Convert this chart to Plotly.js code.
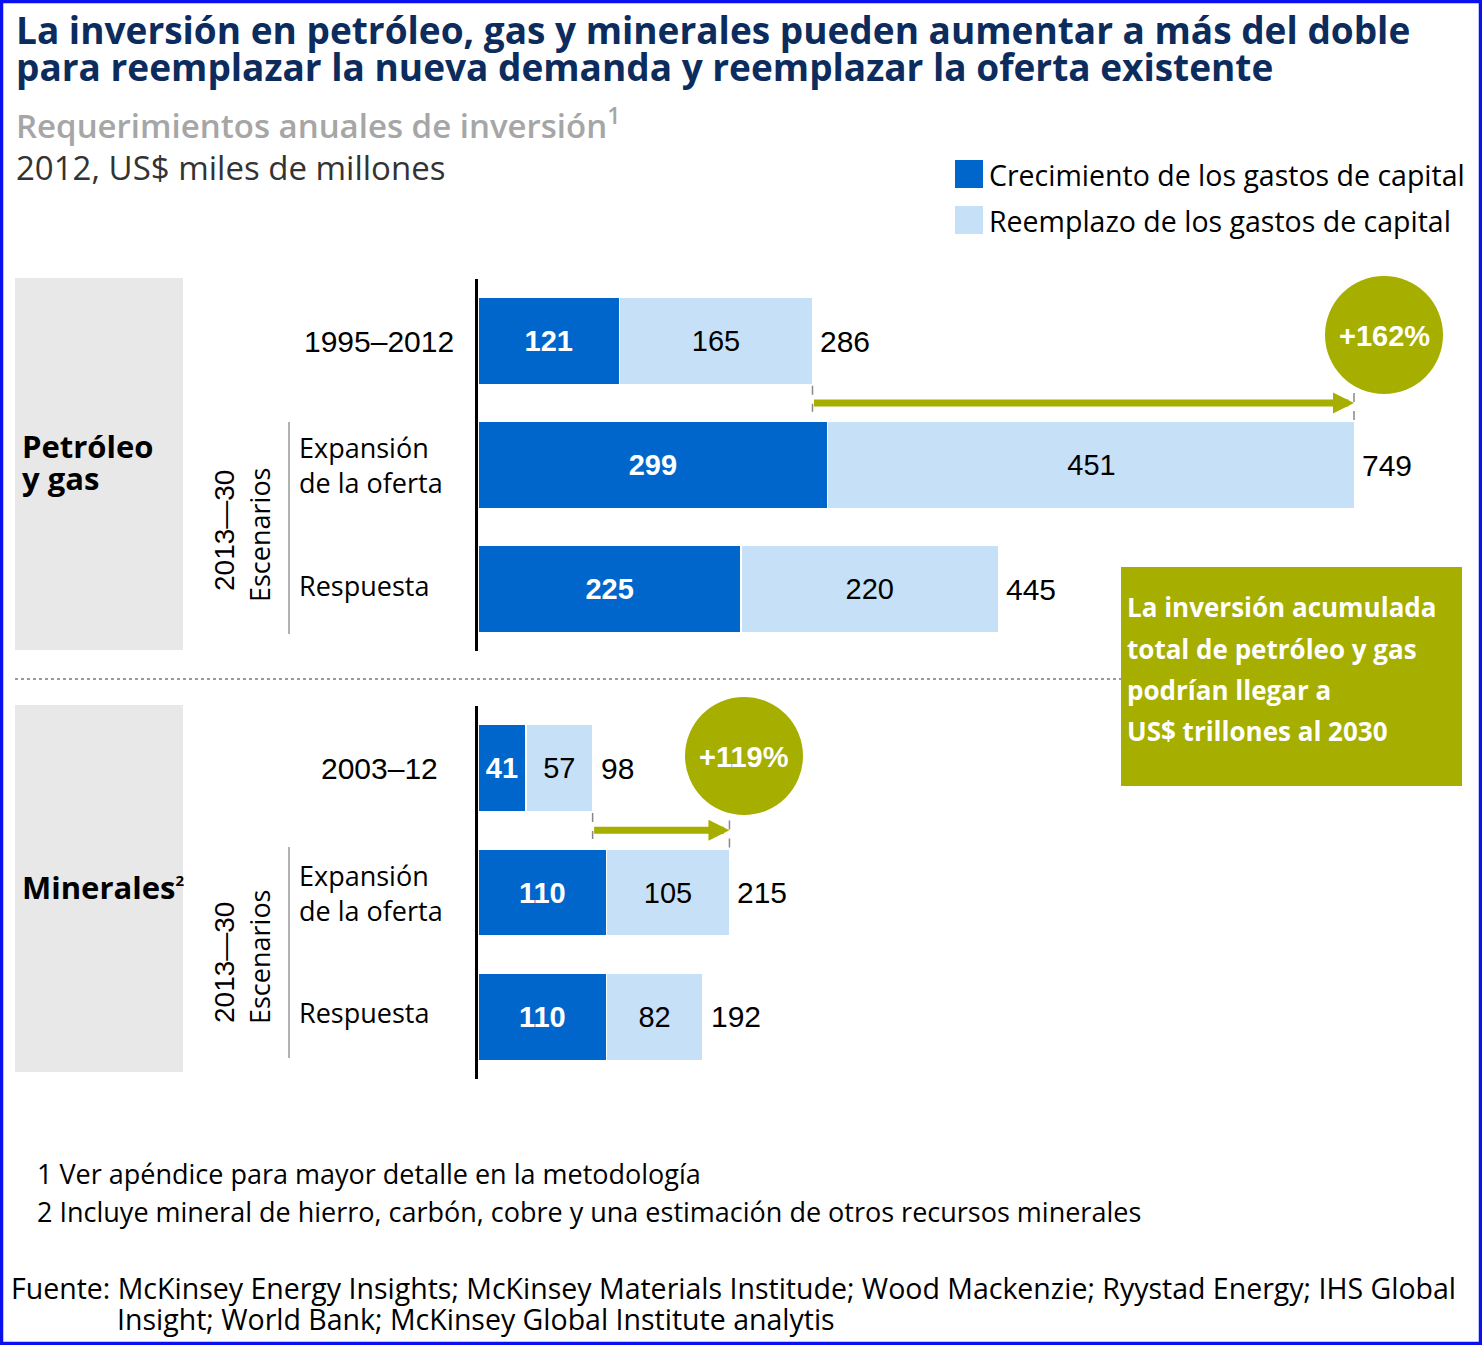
<!DOCTYPE html>
<html>
<head>
<meta charset="utf-8">
<script src="https://cdn.plot.ly/plotly-3.0.1.min.js"></script>
<style>
html,body{margin:0;padding:0;overflow:hidden;background:#fff;}
#chart{width:1482px;height:1345px;}
</style>
</head>
<body>
<div id="chart"></div>
<script>
// ---------- DATA ----------
const rowsOil = ['1995–2012', 'Expansión<br>de la oferta', 'Respuesta'];
const growthOil = [121, 299, 225];
const replaceOil = [165, 451, 220];
const totalOil = [286, 749, 445];

const rowsMin = ['2003–12', 'Expansión<br>de la oferta', 'Respuesta'];
const growthMin = [41, 110, 110];
const replaceMin = [57, 105, 82];
const totalMin = [98, 215, 192];

const seriesNames = ['Crecimiento de los gastos de capital', 'Reemplazo de los gastos de capital'];
const groupNames = ['Petróleo', 'y gas', 'Minerales<sup><span style="font-size:15px">2</span></sup>'];
const periodLabel = '2013—30';
const scenarioLabel = 'Escenarios';

// ---------- STYLE ----------
const W = 1482, H = 1345;
const PX = p => p / W;
const PY = p => 1 - p / H;
const DARK = '#0066cc', LIGHT = '#c6e0f8', OLIVE = '#a6ae00', NAVY = '#0c2c5e';
const ARIAL = 'Liberation Sans, Arial, sans-serif';
const OPEN = 'Open Sans, Noto Sans, sans-serif';
const pxPerUnit = (1354 - 478) / 749;
const xRange = [0, (W - 478) / pxPerUnit];

function barTraces(rows, growth, repl, xa, ya) {
  return [
    {type: 'bar', orientation: 'h', y: rows, x: growth, name: seriesNames[0], xaxis: xa, yaxis: ya,
     marker: {color: DARK, line: {color: '#ffffff', width: 1.5}}, width: 0.7,
     text: growth.map(String), textposition: 'inside', insidetextanchor: 'middle', constraintext: 'none',
     textangle: 0, textfont: {family: ARIAL, size: 29, color: '#ffffff', weight: 700},
     hoverinfo: 'skip', showlegend: false},
    {type: 'bar', orientation: 'h', y: rows, x: repl, name: seriesNames[1], xaxis: xa, yaxis: ya,
     marker: {color: LIGHT, line: {color: '#ffffff', width: 1.5}}, width: 0.7,
     text: repl.map(String), textposition: 'inside', insidetextanchor: 'middle', constraintext: 'none',
     textangle: 0, textfont: {family: ARIAL, size: 29, color: '#000000'},
     hoverinfo: 'skip', showlegend: false}
  ];
}

const data = [
  ...barTraces(rowsOil, growthOil, replaceOil, 'x', 'y'),
  ...barTraces(rowsMin, growthMin, replaceMin, 'x2', 'y2')
];

function txt(text, x, y, o) {
  o = o || {};
  return {xref: 'paper', yref: 'paper', x: PX(x), y: PY(y), text: text, showarrow: false,
    xanchor: o.xanchor || 'left', yanchor: 'middle', textangle: o.angle || 0,
    font: {family: o.family || OPEN, size: o.size || 27, color: o.color || '#000', weight: o.weight || 400}};
}

const annotations = [];
// titles
annotations.push(txt('La inversión en petróleo, gas y minerales pueden aumentar a más del doble', 14, 30, {size: 37, weight: 700, color: NAVY}));
annotations.push(txt('para reemplazar la nueva demanda y reemplazar la oferta existente', 14, 67, {size: 37, weight: 700, color: NAVY}));
annotations.push(txt('Requerimientos anuales de inversión<sup>1</sup>', 14, 124, {size: 33, weight: 600, color: '#a6a6a6'}));
annotations.push(txt('2012, US$ miles de millones', 14, 167, {size: 33, color: '#333333'}));
// legend
annotations.push(txt(seriesNames[0], 987, 175, {size: 28.5}));
annotations.push(txt(seriesNames[1], 987, 221, {size: 28.5}));
// group labels
annotations.push(txt(groupNames[0], 20, 446, {size: 31, weight: 700}));
annotations.push(txt(groupNames[1], 20, 478, {size: 31, weight: 700}));
annotations.push(txt(groupNames[2], 20, 887, {size: 31, weight: 700}));
// period / scenario rotated labels
annotations.push(txt(periodLabel, 224, 531, {size: 28, family: ARIAL, angle: -90, xanchor: 'center'}));
annotations.push(txt(scenarioLabel, 259, 535, {size: 27, angle: -90, xanchor: 'center'}));
annotations.push(txt(periodLabel, 224, 963, {size: 28, family: ARIAL, angle: -90, xanchor: 'center'}));
annotations.push(txt(scenarioLabel, 259, 957, {size: 27, angle: -90, xanchor: 'center'}));

// row labels & totals
function rowAnn(rows, totals, xa, ya) {
  rows.forEach((r, i) => {
    if (i === 0) {
      annotations.push({xref: 'paper', yref: ya, x: PX(379), y: r, text: r, showarrow: false, xanchor: 'center', yanchor: 'middle',
        font: {family: ARIAL, size: 30, color: '#000'}});
    } else {
      annotations.push({xref: 'paper', yref: ya, x: PX(297), y: r, text: r, showarrow: false, xanchor: 'left', yanchor: 'middle',
        align: 'left', yshift: i === 2 ? 4 : 0, font: {family: OPEN, size: 27, color: '#000'}});
    }
    annotations.push({xref: xa, yref: ya, x: totals[i], y: r, text: String(totals[i]), showarrow: false, xanchor: 'left', yanchor: 'middle',
      xshift: 6, font: {family: ARIAL, size: 30, color: '#000'}});
  });
  // growth arrow from historical total to expansion total
  annotations.push({xref: xa, yref: ya, axref: xa, ayref: ya, x: totals[1], y: 0.5, ax: totals[0], ay: 0.5, text: '',
    showarrow: true, arrowhead: 2, arrowsize: 0.6, arrowwidth: 7, arrowcolor: OLIVE, standoff: 0, startstandoff: 0});
}
rowAnn(rowsOil, totalOil, 'x', 'y');
rowAnn(rowsMin, totalMin, 'x2', 'y2');

const pctOil = '+' + Math.round((totalOil[1] / totalOil[0] - 1) * 100) + '%';
const pctMin = '+' + Math.round((totalMin[1] / totalMin[0] - 1) * 100) + '%';
annotations.push(txt(pctOil, 1384, 336, {size: 29, family: ARIAL, weight: 700, color: '#fff', xanchor: 'center'}));
annotations.push(txt(pctMin, 744, 757, {size: 29, family: ARIAL, weight: 700, color: '#fff', xanchor: 'center'}));

// green box text
const boxLines = ['La inversión acumulada', 'total de petróleo y gas', 'podrían llegar a', 'US$ trillones al 2030'];
const boxY = [607, 649, 690, 731];
boxLines.forEach((l, i) => annotations.push(txt(l, 1125, boxY[i], {size: 26, weight: 700, color: '#fff'})));

// footnotes
annotations.push(txt('1 Ver apéndice para mayor detalle en la metodología', 35, 1173, {size: 27}));
annotations.push(txt('2 Incluye mineral de hierro, carbón, cobre y una estimación de otros recursos minerales', 35, 1211, {size: 27}));
annotations.push(txt('Fuente: McKinsey Energy Insights; McKinsey Materials Institude; Wood Mackenzie; Ryystad Energy; IHS Global', 9, 1288, {size: 28.5}));
annotations.push(txt('Insight; World Bank; McKinsey Global Institute analytis', 115, 1319, {size: 28.5}));

const shapes = [];
function rectPx(x0, y0, x1, y1, fill) {
  return {type: 'rect', xref: 'paper', yref: 'paper', x0: PX(x0), x1: PX(x1), y0: PY(y1), y1: PY(y0),
    fillcolor: fill, line: {width: 0}, layer: 'below'};
}
function linePx(x0, y0, x1, y1, color, width, dash) {
  return {type: 'line', xref: 'paper', yref: 'paper', x0: PX(x0), x1: PX(x1), y0: PY(y0), y1: PY(y1),
    line: {color: color, width: width, dash: dash || 'solid'}};
}
// grey group panels
shapes.push(rectPx(15, 278, 183, 650, '#e8e8e8'));
shapes.push(rectPx(15, 705, 183, 1072, '#e8e8e8'));
// scenario brackets
shapes.push(linePx(289, 422, 289, 634, '#999999', 1.5));
shapes.push(linePx(289, 847, 289, 1058, '#999999', 1.5));
// dotted separator
shapes.push(linePx(15, 679, 1121, 679, '#9a9a9a', 2, 'dot'));
// green box
shapes.push(Object.assign(rectPx(1121, 567, 1462, 786, OLIVE), {layer: 'above'}));
// circles
shapes.push({type: 'circle', xref: 'paper', yref: 'paper', x0: PX(1325), x1: PX(1443), y0: PY(394), y1: PY(276), fillcolor: OLIVE, line: {width: 0}});
shapes.push({type: 'circle', xref: 'paper', yref: 'paper', x0: PX(685), x1: PX(803), y0: PY(815), y1: PY(697), fillcolor: OLIVE, line: {width: 0}});
// legend swatches
shapes.push(rectPx(955, 160, 983, 188, DARK));
shapes.push(rectPx(955, 206, 983, 234, LIGHT));
// dashed guides at arrow ends
function guides(totals, xa, ya) {
  shapes.push({type: 'line', xref: xa, yref: ya, x0: totals[0], x1: totals[0], y0: 0.36, y1: 0.57, line: {color: '#888', width: 1.5, dash: 'dash'}});
  shapes.push({type: 'line', xref: xa, yref: ya, x0: totals[1], x1: totals[1], y0: 0.42, y1: 0.65, line: {color: '#888', width: 1.5, dash: 'dash'}});
}
guides(totalOil, 'x', 'y');
guides(totalMin, 'x2', 'y2');
// outer border
shapes.push({type: 'rect', xref: 'paper', yref: 'paper', x0: PX(1.5), x1: PX(W - 1.5), y0: PY(H - 1.5), y1: PY(1.5),
  line: {color: '#0a10ee', width: 3.5}, fillcolor: 'rgba(0,0,0,0)'});

const yCommon = {type: 'category', showgrid: false, zeroline: false, showticklabels: false, ticks: '',
  showline: true, linecolor: '#000', linewidth: 3.5, range: [2.5, -0.5], fixedrange: true};
const xCommon = {range: xRange, visible: false, showgrid: false, zeroline: false, fixedrange: true,
  domain: [478 / W, 1]};

const layout = {
  width: W, height: H, margin: {l: 0, r: 0, t: 0, b: 0},
  paper_bgcolor: '#fff', plot_bgcolor: 'rgba(0,0,0,0)',
  barmode: 'stack', showlegend: false,
  xaxis: Object.assign({}, xCommon, {anchor: 'y'}),
  xaxis2: Object.assign({}, xCommon, {anchor: 'y2'}),
  yaxis: Object.assign({}, yCommon, {anchor: 'x', domain: [PY(651), PY(279)]}),
  yaxis2: Object.assign({}, yCommon, {anchor: 'x2', domain: [PY(1079), PY(706)]}),
  annotations: annotations,
  shapes: shapes
};

Plotly.newPlot('chart', data, layout, {staticPlot: true, displayModeBar: false});
</script>
</body>
</html>
